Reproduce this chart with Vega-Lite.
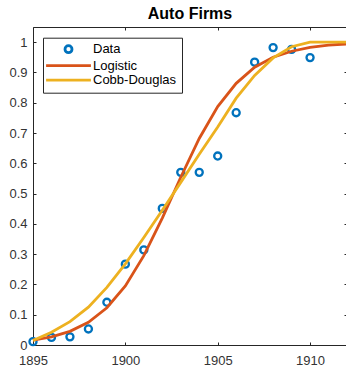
{
  "$schema": "https://vega.github.io/schema/vega-lite/v6.json",
  "width": 314,
  "height": 318,
  "autosize": {"type": "none"},
  "padding": {"left": 33, "top": 27, "right": 0, "bottom": 21},
  "background": "white",
  "title": {
    "text": "Auto Firms",
    "font": "Liberation Sans",
    "fontSize": 16,
    "fontWeight": "bold",
    "color": "#000000",
    "anchor": "middle",
    "offset": 5
  },
  "config": {
    "view": {"stroke": "#262626", "strokeWidth": 1},
    "axis": {
      "domain": false,
      "grid": false,
      "ticks": true,
      "tickSize": -3,
      "tickColor": "#262626",
      "tickWidth": 1,
      "labelFont": "Liberation Sans",
      "labelFontSize": 13,
      "labelColor": "#333333",
      "labelFlush": false,
      "title": null
    },
    "legend": {
      "orient": "none",
      "legendX": 10,
      "legendY": 10.7,
      "padding": 5,
      "strokeColor": "#262626",
      "fillColor": "white",
      "cornerRadius": 0,
      "labelFont": "Liberation Sans",
      "labelFontSize": 13,
      "labelColor": "#000000",
      "labelOffset": 18,
      "symbolOffset": 14,
      "rowPadding": 0.5,
      "symbolSize": 49,
      "symbolStrokeWidth": 2.8
    }
  },
  "datasets": {
    "obs": [
      {"year": 1895, "share": 0.011, "series": "Data"},
      {"year": 1896, "share": 0.025, "series": "Data"},
      {"year": 1897, "share": 0.027, "series": "Data"},
      {"year": 1898, "share": 0.053, "series": "Data"},
      {"year": 1899, "share": 0.141, "series": "Data"},
      {"year": 1900, "share": 0.267, "series": "Data"},
      {"year": 1901, "share": 0.314, "series": "Data"},
      {"year": 1902, "share": 0.451, "series": "Data"},
      {"year": 1903, "share": 0.57, "series": "Data"},
      {"year": 1904, "share": 0.57, "series": "Data"},
      {"year": 1905, "share": 0.624, "series": "Data"},
      {"year": 1906, "share": 0.767, "series": "Data"},
      {"year": 1907, "share": 0.934, "series": "Data"},
      {"year": 1908, "share": 0.982, "series": "Data"},
      {"year": 1909, "share": 0.976, "series": "Data"},
      {"year": 1910, "share": 0.949, "series": "Data"}
    ],
    "fits": [
      {"year": 1895, "share": 0.016, "series": "Logistic"},
      {"year": 1896, "share": 0.027, "series": "Logistic"},
      {"year": 1897, "share": 0.045, "series": "Logistic"},
      {"year": 1898, "share": 0.075, "series": "Logistic"},
      {"year": 1899, "share": 0.123, "series": "Logistic"},
      {"year": 1900, "share": 0.195, "series": "Logistic"},
      {"year": 1901, "share": 0.295, "series": "Logistic"},
      {"year": 1902, "share": 0.419, "series": "Logistic"},
      {"year": 1903, "share": 0.554, "series": "Logistic"},
      {"year": 1904, "share": 0.682, "series": "Logistic"},
      {"year": 1905, "share": 0.787, "series": "Logistic"},
      {"year": 1906, "share": 0.864, "series": "Logistic"},
      {"year": 1907, "share": 0.917, "series": "Logistic"},
      {"year": 1908, "share": 0.95, "series": "Logistic"},
      {"year": 1909, "share": 0.97, "series": "Logistic"},
      {"year": 1910, "share": 0.983, "series": "Logistic"},
      {"year": 1911, "share": 0.99, "series": "Logistic"},
      {"year": 1912, "share": 0.994, "series": "Logistic"},
      {"year": 1895, "share": 0.015, "series": "Cobb-Douglas"},
      {"year": 1896, "share": 0.042, "series": "Cobb-Douglas"},
      {"year": 1897, "share": 0.077, "series": "Cobb-Douglas"},
      {"year": 1898, "share": 0.125, "series": "Cobb-Douglas"},
      {"year": 1899, "share": 0.19, "series": "Cobb-Douglas"},
      {"year": 1900, "share": 0.268, "series": "Cobb-Douglas"},
      {"year": 1901, "share": 0.355, "series": "Cobb-Douglas"},
      {"year": 1902, "share": 0.445, "series": "Cobb-Douglas"},
      {"year": 1903, "share": 0.537, "series": "Cobb-Douglas"},
      {"year": 1904, "share": 0.63, "series": "Cobb-Douglas"},
      {"year": 1905, "share": 0.72, "series": "Cobb-Douglas"},
      {"year": 1906, "share": 0.815, "series": "Cobb-Douglas"},
      {"year": 1907, "share": 0.89, "series": "Cobb-Douglas"},
      {"year": 1908, "share": 0.948, "series": "Cobb-Douglas"},
      {"year": 1909, "share": 0.985, "series": "Cobb-Douglas"},
      {"year": 1910, "share": 1.0, "series": "Cobb-Douglas"},
      {"year": 1911, "share": 1.0, "series": "Cobb-Douglas"},
      {"year": 1912, "share": 1.0, "series": "Cobb-Douglas"}
    ]
  },
  "layer": [
    {
      "mark": {"type": "rule", "color": "#000000", "strokeWidth": 1, "strokeDash": [6, 4]},
      "encoding": {
        "y": {"datum": 0.5, "type": "quantitative", "scale": {"domain": [0, 1.05]}, "axis": null}
      }
    },
    {
      "data": {"name": "obs"},
      "mark": {"type": "point", "filled": false, "size": 50, "strokeWidth": 2.3, "opacity": 1},
      "encoding": {
        "x": {
          "field": "year", "type": "quantitative",
          "scale": {"domain": [1895, 1912], "nice": false, "zero": false},
          "axis": {"orient": "bottom", "values": [1895, 1900, 1905, 1910], "format": "d", "labelPadding": 12}
        },
        "y": {
          "field": "share", "type": "quantitative",
          "scale": {"domain": [0, 1.05], "nice": false},
          "axis": {"orient": "left", "values": [0, 0.1, 0.2, 0.3, 0.4, 0.5, 0.6, 0.7, 0.8, 0.9, 1], "format": ".1~f", "labelPadding": 9}
        },
        "color": {
          "field": "series", "type": "nominal",
          "scale": {"domain": ["Data", "Logistic", "Cobb-Douglas"], "range": ["#0072BD", "#D95319", "#EDB120"]},
          "legend": {"title": null}
        },
        "shape": {
          "field": "series", "type": "nominal",
          "scale": {"domain": ["Data", "Logistic", "Cobb-Douglas"], "range": ["circle", "M-6.4,0H6.4", "M-6.4,0H6.4"]},
          "legend": {"title": null}
        }
      }
    },
    {
      "data": {"name": "fits"},
      "transform": [{"filter": "datum.series === 'Logistic'"}],
      "mark": {"type": "line", "strokeWidth": 2.8},
      "encoding": {
        "x": {
          "field": "year", "type": "quantitative",
          "axis": {"orient": "top", "values": [1895, 1900, 1905, 1910], "labels": false}
        },
        "y": {
          "field": "share", "type": "quantitative",
          "axis": {"orient": "right", "values": [0, 0.1, 0.2, 0.3, 0.4, 0.5, 0.6, 0.7, 0.8, 0.9, 1], "labels": false}
        },
        "color": {"field": "series", "type": "nominal", "legend": {"title": null}}
      }
    },
    {
      "data": {"name": "fits"},
      "transform": [{"filter": "datum.series === 'Cobb-Douglas'"}],
      "mark": {"type": "line", "strokeWidth": 2.8},
      "encoding": {
        "x": {"field": "year", "type": "quantitative", "axis": null},
        "y": {"field": "share", "type": "quantitative", "axis": null},
        "color": {"field": "series", "type": "nominal", "legend": {"title": null}}
      }
    }
  ],
  "resolve": {"axis": {"x": "independent", "y": "independent"}}
}
